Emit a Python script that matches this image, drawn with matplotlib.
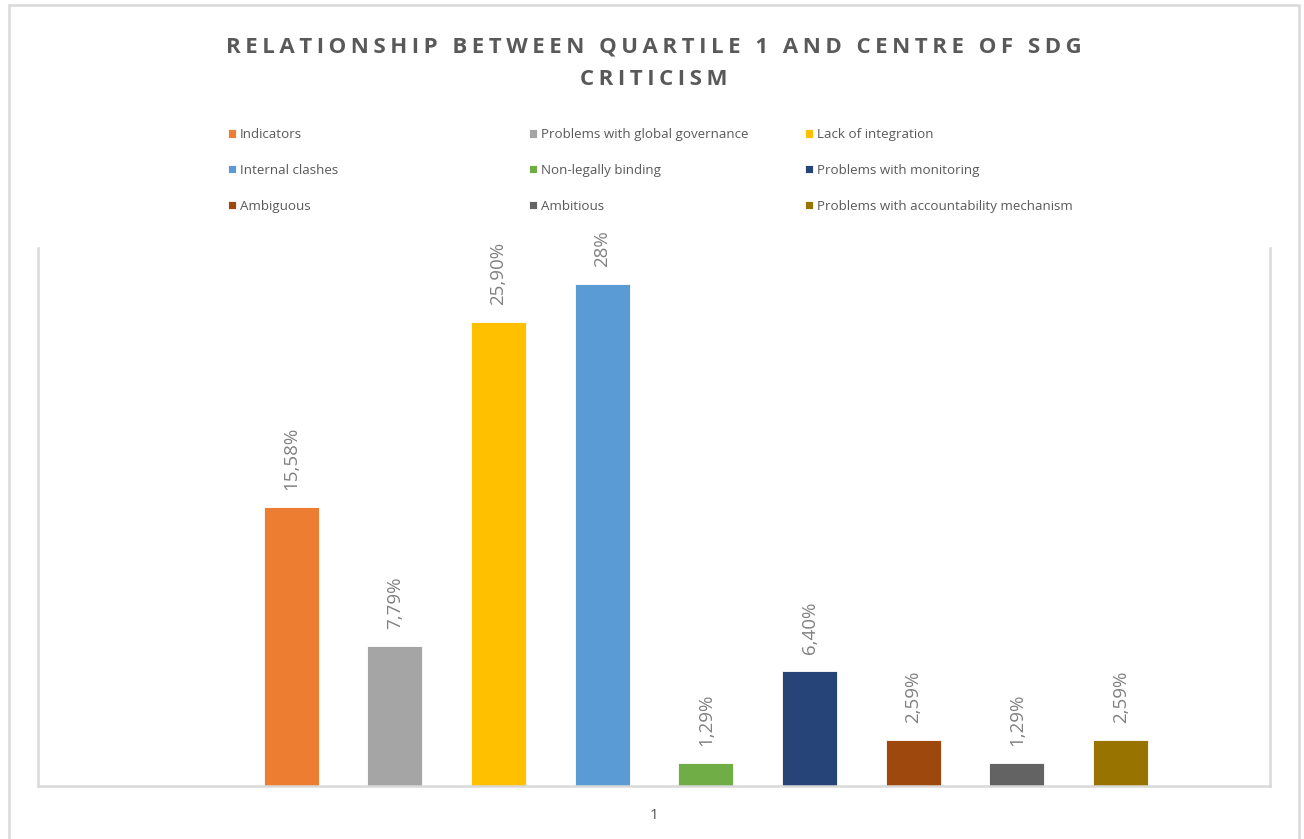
import matplotlib
matplotlib.use("Agg")
import matplotlib.pyplot as plt
from matplotlib.patches import Rectangle

title = "RELATIONSHIP BETWEEN QUARTILE 1 AND CENTRE OF SDG\nCRITICISM"
series = ["Indicators", "Problems with global governance", "Lack of integration",
          "Internal clashes", "Non-legally binding", "Problems with monitoring",
          "Ambiguous", "Ambitious", "Problems with accountability mechanism"]
values = [15.58, 7.79, 25.90, 28.0, 1.29, 6.40, 2.59, 1.29, 2.59]
labels = ["15,58%", "7,79%", "25,90%", "28%", "1,29%", "6,40%", "2,59%", "1,29%", "2,59%"]
colors = ["#ED7D31", "#A5A5A5", "#FFC000", "#5B9BD5", "#70AD47",
          "#264478", "#9E480E", "#636363", "#997300"]
category = "1"

W, H = 1304, 839
fig = plt.figure(figsize=(W / 100, H / 100), dpi=100)
plt.rcParams['font.family'] = ['Open Sans', 'DejaVu Sans']

# outer chart border
fig.patches.append(Rectangle((9 / W, -0.05), (1299 - 9) / W, (839 - 5) / H + 0.05,
                             transform=fig.transFigure, fill=False,
                             edgecolor="#d9d9d9", linewidth=1.8))

ax = fig.add_axes([38 / W, (H - 786) / H, (1270 - 38) / W, (786 - 248) / H])
nslots = 10
bar_w = 0.53
center = (nslots - 1) / 2
bars = []
for i, (name, v, c, lab) in enumerate(zip(series, values, colors, labels)):
    x = i + 1
    b = ax.bar(x, v, width=bar_w, color=c, label=name, edgecolor="white", linewidth=0.6)
    bars.append(b)
    ax.annotate(lab, (x, v), xytext=(0, 17), textcoords="offset pixels",
                rotation=90, ha="center", va="bottom", fontsize=13.5,
                color="#808080")

half = (1270 - 38) / 103.7 / 2
ax.set_xlim(center - half, center + half)
ax.set_ylim(0, 30)
ax.set_yticks([])
ax.set_xticks([center])
ax.set_xticklabels([category], fontsize=11, color="#595959")
ax.tick_params(axis="x", length=0, pad=16)
for s in ["left", "right", "bottom"]:
    ax.spines[s].set_color("#d9d9d9")
    ax.spines[s].set_linewidth(1.8)
ax.spines["top"].set_visible(False)

# title with letter spacing
sp = "\u200a\u200a"
tl = "\n".join(sp.join(list(line)) for line in title.split("\n"))
fig.text(654 / W, 1 - 63 / H, tl, ha="center", va="center", fontsize=16,
         fontweight="bold", color="#595959", linespacing=1.7,
         family=["Open Sans", "DejaVu Sans"])

# legend in three columns, row-major order
col_x = [228, 529, 805]
for c in range(3):
    hs = [bars[r * 3 + c] for r in range(3)]
    ls = [series[r * 3 + c] for r in range(3)]
    fig.legend(hs, ls, loc="upper left", bbox_to_anchor=(col_x[c] / W, 1 - 128 / H),
               frameon=False, fontsize=9.6, labelcolor="#595959",
               handlelength=0.6, handleheight=0.6, handletextpad=0.3,
               labelspacing=1.72, borderpad=0, borderaxespad=0)

fig.savefig("out.png", dpi=100, facecolor="white")
